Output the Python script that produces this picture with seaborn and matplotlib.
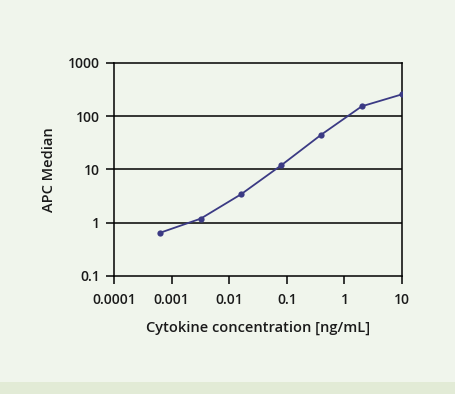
import pandas as pd
import matplotlib.pyplot as plt
import seaborn as sns
from matplotlib.patches import Rectangle

# values (5-fold dilution series)
concentration = [0.00064, 0.0032, 0.016, 0.08, 0.4, 2, 10]
apc_median = [0.65, 1.19, 3.4, 11.9, 45, 152, 255]

x_ticks = [0.0001, 0.001, 0.01, 0.1, 1, 10]
x_tick_labels = ["0.0001", "0.001", "0.01", "0.1", "1", "10"]
y_ticks = [0.1, 1, 10, 100, 1000]
y_tick_labels = ["0.1", "1", "10", "100", "1000"]

df = pd.DataFrame({"conc": concentration, "apc": apc_median})

bg = "#f0f5ec"
line_col = "#3b3a84"

sns.set_style("white")
plt.rcParams["font.family"] = ["Open Sans", "DejaVu Sans"]

fig = plt.figure(figsize=(4.56, 3.94), dpi=100, facecolor=bg)
ax = fig.add_axes([0.25, 0.2995, 0.6316, 0.5414])
ax.set_facecolor(bg)

# bottom band
fig.patches.append(Rectangle((0, 0), 1, 12 / 394, transform=fig.transFigure,
                             facecolor="#e2ebd6", edgecolor="none", zorder=0))

sns.lineplot(data=df, x="conc", y="apc", ax=ax, color=line_col, linewidth=1.3,
             marker="o", markersize=4.5, markeredgewidth=0, zorder=3)

ax.set_xscale("log")
ax.set_yscale("log")
ax.set_xlim(0.0001, 10)
ax.set_ylim(0.1, 1000)

ax.set_xticks(x_ticks)
ax.set_xticklabels(x_tick_labels)
ax.set_yticks(y_ticks)
ax.set_yticklabels(y_tick_labels)
ax.minorticks_off()

for v in y_ticks[1:-1]:
    ax.axhline(v, color="black", linewidth=1.1, zorder=1)

for s in ax.spines.values():
    s.set_color("black")
    s.set_linewidth(1.1)

ax.tick_params(axis="both", which="major", direction="out", length=6,
               width=1.1, color="black", labelsize=10, labelcolor="#1a1a1a",
               bottom=True, left=True)
ax.tick_params(axis="x", pad=6)
ax.tick_params(axis="y", pad=4)
for lbl in ax.get_xticklabels() + ax.get_yticklabels():
    lbl.set_fontweight("semibold")

ax.set_xlabel("Cytokine concentration [ng/mL]", fontsize=10.5,
              fontweight="semibold", color="#1a1a1a", labelpad=10)
ax.set_ylabel("APC Median", fontsize=10.5, fontweight="semibold",
              color="#1a1a1a", labelpad=9)

fig.savefig("out.png", dpi=100, facecolor=bg)
